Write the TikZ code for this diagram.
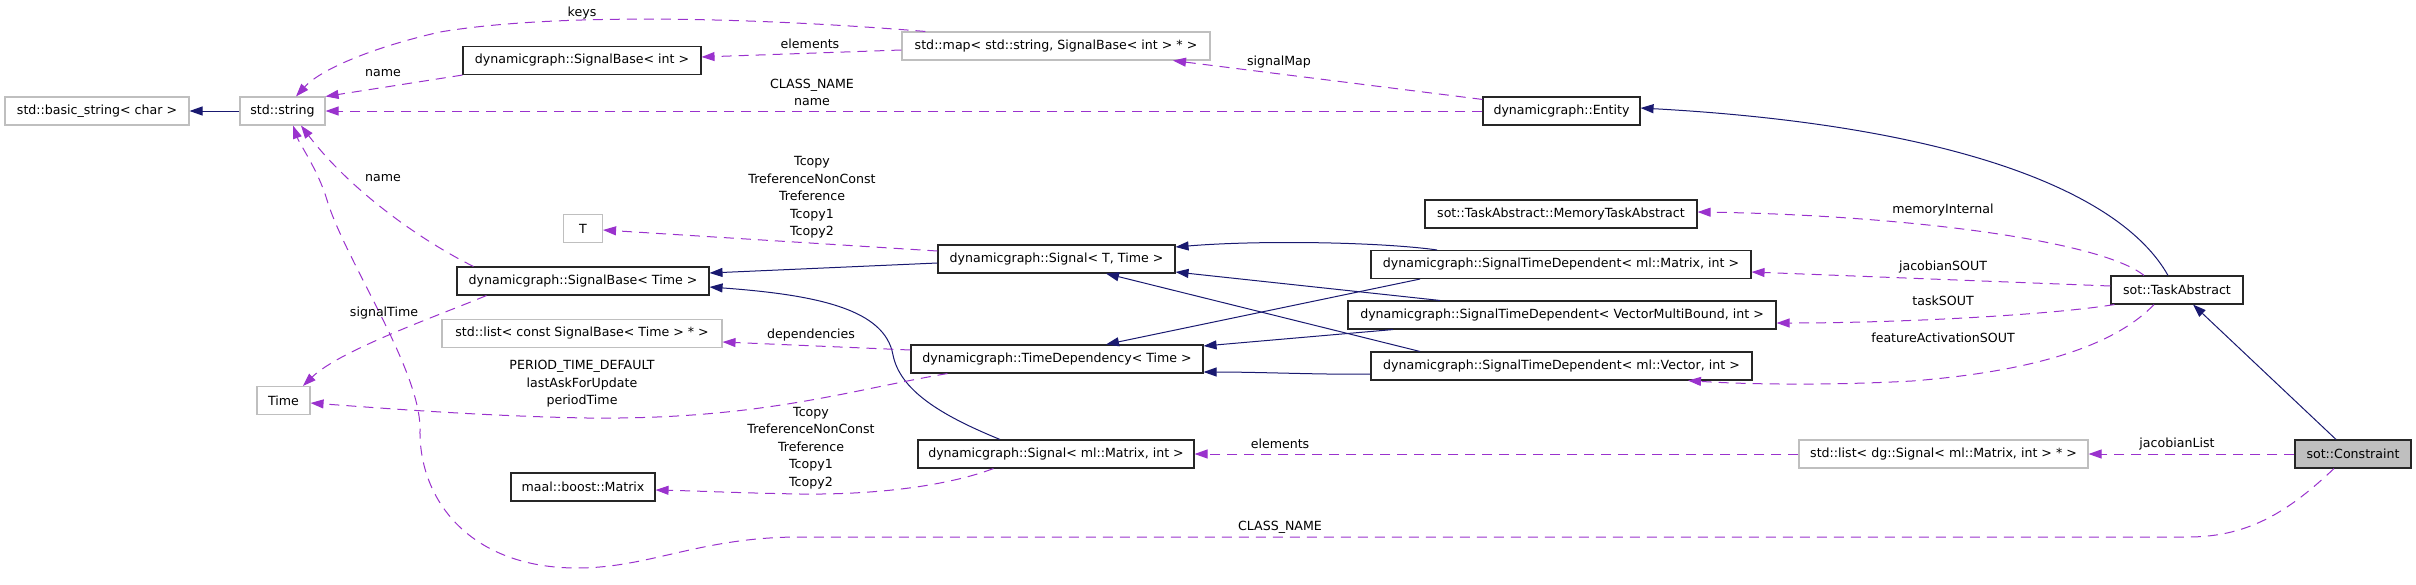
\documentclass[tikz,border=0pt]{standalone}
\usepackage{fontspec}
\setmainfont{DejaVu Sans}
\usetikzlibrary{arrows.meta,calc}
\definecolor{inhcol}{HTML}{191970}
\definecolor{usecol}{HTML}{9A32CD}
\definecolor{undoc}{HTML}{BFBFBF}
\begin{document}
\begin{tikzpicture}[x=0.5pt,y=-0.5pt,
  txt/.style={font=\fontsize{6.3}{8.75}\selectfont},
  cls/.style={txt,draw=black!85,line width=0.55pt,minimum height=14pt,inner sep=0pt,fill=white},
  ext/.style={cls,draw=undoc},
  lbl/.style={txt,align=center,inner sep=0pt},
  inhe/.style={draw=inhcol,line width=0.5pt,-{Triangle[length=6.5pt,width=4.5pt]}},
  usee/.style={draw=usecol,line width=0.5pt,dash pattern=on 5pt off 3.5pt,-{Triangle[length=6.5pt,width=4.5pt]}}]
\useasboundingbox (0,0) rectangle (2416,584);
% nodes
\node[ext,minimum width=92pt] (basic) at (97,111) {std::basic\_string< char >};
\node[ext,minimum width=42.5pt] (str) at (282.5,111) {std::string};
\node[cls,minimum width=119pt] (sbint) at (582,60.5) {dynamicgraph::SignalBase< int >};
\node[ext,minimum width=154pt] (map) at (1056,46) {std::map< std::string, SignalBase< int > * >};
\node[cls,minimum width=78.5pt] (entity) at (1561.5,111) {dynamicgraph::Entity};
\node[ext,minimum width=19.5pt] (T) at (583,228.5) {T};
\node[cls,minimum width=126pt] (sbtime) at (583,281) {dynamicgraph::SignalBase< Time >};
\node[ext,minimum width=140pt] (listc) at (582,333.5) {std::list< const SignalBase< Time > * >};
\node[ext,minimum width=26.5pt] (time) at (283.5,400.5) {Time};
\node[cls,minimum width=72pt] (maal) at (583,487) {maal::boost::Matrix};
\node[cls,minimum width=118.5pt] (sigT) at (1056.5,259) {dynamicgraph::Signal< T, Time >};
\node[cls,minimum width=146pt] (timedep) at (1057,359) {dynamicgraph::TimeDependency< Time >};
\node[cls,minimum width=138pt] (sigM) at (1056,454) {dynamicgraph::Signal< ml::Matrix, int >};
\node[cls,minimum width=136pt] (mem) at (1561,214) {sot::TaskAbstract::MemoryTaskAbstract};
\node[cls,minimum width=190pt] (stdM) at (1561,264.5) {dynamicgraph::SignalTimeDependent< ml::Matrix, int >};
\node[cls,minimum width=214pt] (stdVMB) at (1562,315) {dynamicgraph::SignalTimeDependent< VectorMultiBound, int >};
\node[cls,minimum width=190.5pt] (stdV) at (1561.5,366) {dynamicgraph::SignalTimeDependent< ml::Vector, int >};
\node[cls,minimum width=66pt] (task) at (2177,290) {sot::TaskAbstract};
\node[ext,minimum width=144.5pt] (listdg) at (1943.5,454) {std::list< dg::Signal< ml::Matrix, int > * >};
\node[cls,minimum width=58pt,fill=undoc] (cons) at (2353,454) {sot::Constraint};
% inheritance edges
\draw[inhe] (str.west) -- (basic.east);
\draw[inhe] ($(sigT.west)+(0,4)$) -- ($(sbtime.east)+(0,-8)$);
\draw[inhe] ($(sigM.north)+(-56,0)$) .. controls (940,415) and (900,390) .. (893,355)
  .. controls (885,310) and (820,295) .. ($(sbtime.east)+(0,6)$);
\draw[inhe] ($(stdM.north)+(-124,0)$) .. controls (1380,242) and (1260,240) .. ($(sigT.east)+(0,-12)$);
\draw[inhe] ($(stdVMB.north)+(-122,0)$) -- ($(sigT.east)+(0,13)$);
\draw[inhe] ($(stdV.north)+(-141.5,0)$) -- ($(sigT.south)+(49.5,0)$);
\draw[inhe] ($(stdM.south)+(-141,0)$) -- ($(timedep.north)+(49,0)$);
\draw[inhe] ($(stdVMB.south)+(-169,0)$) -- ($(timedep.east)+(0,-13)$);
\draw[inhe] ($(stdV.west)+(0,8)$) .. controls (1330,375) and (1260,372) .. ($(timedep.east)+(0,13)$);
\draw[inhe] ($(cons.north)+(-17,0)$) -- ($(task.south)+(16,0)$);
\draw[inhe] ($(task.north)+(-9,0)$) .. controls (2120,190) and (1950,125) .. ($(entity.east)+(0,-3)$);
% usage edges
\draw[usee] (sbint.south west) -- (str.north east);
\draw[usee] ($(map.north west)+(24,0)$) .. controls (760,18) and (560,12) .. (440,32)
  .. controls (370,48) and (320,70) .. ($(str.north)+(13.5,0)$);
\draw[usee] ($(map.west)+(0,4)$) -- ($(sbint.east)+(0,-3.5)$);
\draw[usee] ($(entity.north west)+(0,3)$) -- ($(map.south)+(117,0)$);
\draw[usee] (entity.west) -- (str.east);
\draw[usee] ($(sigT.west)+(0,-8)$) -- ($(T.east)+(0,1.5)$);
\draw[usee] ($(timedep.west)+(0,-9)$) -- ($(listc.east)+(0,8.5)$);
\draw[usee] ($(timedep.south west)+(37,0)$) .. controls (850,390) and (760,420) .. (587,418)
  .. controls (480,416) and (380,408) .. ($(time.east)+(0,2.5)$);
\draw[usee] ($(sigM.south west)+(76,0)$) .. controls (950,485) and (880,495) .. (800,494)
  .. controls (740,493) and (700,491) .. ($(maal.east)+(0,3)$);
\draw[usee] ($(sbtime.north west)+(17,0)$) .. controls (420,240) and (350,190) .. ($(str.south)+(18.5,0)$);
\draw[usee] ($(sbtime.south west)+(30,0)$) .. controls (440,315) and (340,350) .. ($(time.north)+(19.5,0)$);
\draw[usee] ($(cons.south)+(-19,0)$) .. controls (2290,510) and (2250,537) .. (2188,537) -- (800,537)
  .. controls (700,537) and (650,568) .. (577,568)
  .. controls (470,568) and (419,500) .. (420,430)
  .. controls (421,370) and (345,260) .. (327,200)
  .. controls (318,170) and (300,145) .. ($(str.south)+(10.5,0)$);
\draw[usee] (listdg.west) -- (sigM.east);
\draw[usee] (cons.west) -- (listdg.east);
\draw[usee] ($(task.north)+(-33,0)$) .. controls (2100,240) and (1900,215) .. ($(mem.east)+(0,-2)$);
\draw[usee] ($(task.west)+(0,-4)$) -- ($(stdM.east)+(0,7.5)$);
\draw[usee] ($(task.south west)+(4,0)$) .. controls (2050,315) and (1900,323) .. ($(stdVMB.east)+(0,8)$);
\draw[usee] ($(task.south)+(-23,0)$) .. controls (2120,340) and (2050,370) .. (1912,381)
  .. controls (1820,386) and (1740,384) .. ($(stdV.south)+(126.5,0)$);
% labels
\node[lbl] (l1) at (582,13) {keys};
\node[lbl] (l2) at (383,73) {name};
\node[lbl] (l3) at (810,44) {elements};
\node[lbl] (l4) at (1279,62) {signalMap};
\node[lbl] (l5) at (812,92.5) {CLASS\_NAME\\name};
\node[lbl] (l6) at (812,197.5) {Tcopy\\TreferenceNonConst\\Treference\\Tcopy1\\Tcopy2};
\node[lbl] (l7) at (383,178) {name};
\node[lbl] (l8) at (384,313) {signalTime};
\node[lbl] (l9) at (811,335) {dependencies};
\node[lbl] (l10) at (582,384) {PERIOD\_TIME\_DEFAULT\\lastAskForUpdate\\periodTime};
\node[lbl] (l11) at (811,448) {Tcopy\\TreferenceNonConst\\Treference\\Tcopy1\\Tcopy2};
\node[lbl] (l12) at (1280,527) {CLASS\_NAME};
\node[lbl] (l13) at (1280,444) {elements};
\node[lbl] (l14) at (2177,444) {jacobianList};
\node[lbl] (l15) at (1943,210) {memoryInternal};
\node[lbl] (l16) at (1943,267) {jacobianSOUT};
\node[lbl] (l17) at (1943,301) {taskSOUT};
\node[lbl] (l18) at (1943,338) {featureActivationSOUT};
\end{tikzpicture}
\end{document}
